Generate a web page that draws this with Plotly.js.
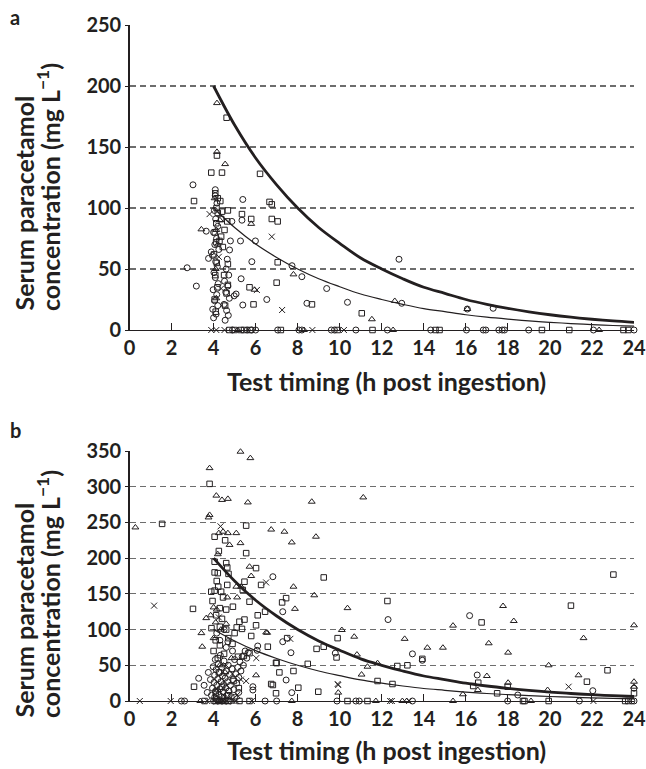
<!DOCTYPE html>
<html><head><meta charset="utf-8">
<script src="https://cdn.plot.ly/plotly-3.0.1.min.js"></script>
<style>html,body{margin:0;padding:0;background:#fff}</style>
</head><body><div id="chart" style="width:646px;height:769px"></div>
<script>
// ---------- DATA (time h, concentration mg/L) ----------
// Panel a
const aCircles = [[3.02,119],[3.18,36],[2.74,51],[3.65,81],[5.39,107],[4.87,89],[5.35,90],[4.80,73],[5.28,73],[5.99,73],[4.76,65.6],[3.76,58.7],[3.89,64],[5.82,56],[5.31,42],[4.98,28],[5.07,29.5],[5.39,20.5],[7.73,52.7],[8.20,43.7],[9.38,34],[6.53,25],[8.44,21.9],[10.37,22.7],[12.82,58],[12.95,21.9],[16.07,17.2],[17.30,17.8],[4.08,115],
 [4.00,10],[4.12,13],[3.96,17],[4.20,20],[4.05,24],[4.15,29],[3.98,33],[4.22,38],[4.08,43],[4.02,47],[4.18,52],[4.10,56],[3.95,61],[4.25,66],[4.06,70],[4.14,75],[4.00,80],[4.20,85],[4.10,91],[4.04,98],[4.16,104],[4.08,110],
 [4.55,8],[4.70,12],[4.62,16],[4.50,21],[4.75,26],[4.58,31],[4.68,36],[4.52,40],[4.72,45],[4.60,50],[4.65,58],
 [4.90,0],[5.60,0],[5.80,0],[6.00,0],[7.05,0],[8.06,0],[8.20,0],[9.60,0],[9.75,0],[10.77,0],[12.27,0],[14.33,0],[16.03,0],[16.83,0],[16.95,0],[17.57,0],[17.73,0],[17.84,0],[18.99,0],[22.07,0],[24.00,0]];
const aSquares = [[3.89,129],[4.40,129],[4.62,174],[4.16,143],[6.21,128],[6.66,105],[6.77,103],[6.77,91],[7.05,89],[5.79,91],[7.05,55.5],[7.00,38.8],[5.90,21],[8.68,21],[11.05,13.7],[3.07,105.7],[4.32,105.7],[4.20,96],[4.40,97],[4.68,98],[5.35,95],[4.36,91],[4.65,89],[4.13,87.5],[4.52,82],[4.36,76.5],[4.28,73],[4.44,68],[4.68,54],[4.68,37],[5.71,35],
 [4.10,15],[4.05,25],[4.18,35],[4.08,45],[4.15,55],[4.02,62],[4.12,72],[4.06,80],[4.14,100],[4.08,112],[4.20,108],[4.55,20],[4.62,30],[4.50,45],
 [4.75,0],[5.00,0],[5.30,0],[5.45,0],[5.75,0],[7.20,0],[9.90,0],[11.56,0],[14.56,0],[14.75,0],[19.62,0],[20.92,0],[23.50,0],[23.73,0]];
const aTriangles = [[4.16,186],[4.16,146],[4.55,136],[5.79,87],[7.80,45.6],[11.53,8.8],[12.62,23.8],[16.07,17.2],[3.42,82.5],[4.13,82],[4.13,26],[5.95,33],[4.20,70],[4.10,50],[4.30,90],[4.05,108],
 [5.15,0],[8.30,0],[12.54,0],[22.34,0]];
const aCrosses = [[3.81,95],[6.77,76.5],[6.06,32.8],[7.26,16.4],[4.36,34],[4.25,60],
 [3.89,0],[4.13,0],[4.52,0],[8.70,0],[10.20,0]];

// Panel b
const bCircles = [[6.82,174],[7.29,125],[12.30,114],[16.18,119.5],[7.29,83],[6.10,77],[7.68,67.6],[9.79,67],[13.46,66],[13.93,57],[16.54,36.4],[7.45,29.4],[5.87,20],[5.87,15.4],[7.72,11.7],[3.29,31.8],[6.07,71],[22.04,14.4],[18.47,8.4],[24.00,17.8],[4.68,83],
 [3.55,22],[3.70,12],[3.75,40],[3.85,30],[3.90,8],[3.95,18],[3.98,48],[4.02,26],[4.05,5],[4.05,36],[4.08,58],[4.10,14],[4.12,44],[4.15,22],[4.18,3],[4.20,31],[4.22,52],[4.25,9],[4.28,40],[4.30,17],[4.32,64],[4.35,27],[4.38,6],[4.40,47],[4.42,35],[4.45,13],[4.48,23],[4.50,56],[4.52,4],[4.55,32],[4.58,18],[4.60,42],[4.63,8],[4.66,27],[4.70,50],[4.73,14],[4.76,37],[4.80,22],[4.84,6],[4.88,45],[4.92,30],[4.96,16],[5.00,58],[5.05,38],[5.10,25],[5.15,47],[5.20,33],[5.25,55],[5.30,42],[5.36,62],[5.42,50],[5.50,70],[5.58,60],[5.65,68],[5.20,12],[5.00,5],[4.90,70],[4.60,75],[4.30,85],[4.15,95],[4.50,100],
 [2.47,0],[2.62,0],[4.00,0],[4.20,0],[4.40,0],[4.60,0],[4.80,0],[6.45,0],[7.00,0],[9.87,0],[10.77,0],[10.93,0],[13.46,0],[17.99,0],[21.40,0],[23.90,0],[24.00,0]];
const bSquares = [[1.55,248],[3.81,304],[5.55,245.5],[4.05,230],[5.55,207],[4.05,195],[4.60,193],[4.65,187],[6.02,186],[4.05,180],[4.20,179],[4.71,178],[4.15,168],[4.22,160],[5.47,167],[6.26,162.5],[4.65,162.5],[3.89,153],[4.05,154.5],[4.36,153],[5.39,155.5],[3.02,129],[4.30,130],[4.60,128],[4.92,132],[5.71,139],[9.24,173],[7.26,138],[7.45,144],[12.27,140],[6.45,125],[6.10,120],[5.23,111],[5.47,114],[6.02,106],[16.75,110],[21.00,133.5],[23.02,177],[3.90,102],[4.30,104],[4.60,100],[5.10,103],[5.35,101],[5.79,91],[6.58,76],[7.50,88],[9.90,88],[8.90,73],[9.24,76],[9.85,61],[13.93,59],[7.00,53],[7.13,40],[7.80,42],[8.48,52],[12.74,49],[13.22,50],[22.74,43],[21.76,27],[16.59,25.6],[11.80,28],[12.51,23.8],[6.74,23.8],[6.82,22.4],[6.97,10.8],[8.03,18.6],[8.98,13],[3.07,20],[5.16,62],[5.44,63],[5.71,67],[6.97,53.6],[16.35,21],[17.49,10.8],[17.99,20],[24.00,10.8],[4.10,85],[4.30,78],[4.00,70],[4.50,66],[4.20,60],[4.70,88],[4.90,80],[5.00,95],[4.12,120],[4.40,115],[3.95,140],[4.45,145],[4.25,210],[4.55,225],[4.10,12],[4.40,20],[4.70,8],[4.95,28],[5.20,18],[4.25,40],
 [3.57,0],[4.10,0],[4.30,0],[4.50,0],[4.70,0],[5.23,0],[5.71,0],[10.37,0],[11.32,0],[18.72,0],[18.79,0],[19.94,0],[23.58,0],[23.73,0]];
const bTriangles = [[0.28,243],[5.28,349],[5.75,340],[3.81,326],[4.13,287.5],[4.40,281.5],[4.68,283],[5.63,278],[3.81,260.5],[3.76,257],[8.67,279],[11.12,285],[6.74,240],[7.37,237],[7.72,222],[8.87,230],[4.25,235],[4.45,237],[4.68,235],[5.08,235],[4.76,218.5],[5.28,221],[4.20,205.5],[5.71,188],[5.79,175],[5.08,160],[5.31,160],[7.80,160],[8.79,148],[4.65,145],[5.12,145],[7.87,129],[10.37,130],[3.65,116],[3.86,120],[4.15,128],[4.00,131],[6.50,96],[10.10,99.4],[15.39,105.5],[17.77,133],[18.28,112],[24.00,106],[3.42,95],[6.55,95.5],[3.46,76],[21.60,88],[13.09,87],[14.17,74.6],[14.91,74.6],[17.09,80.8],[18.01,67.7],[10.69,90],[10.82,65],[11.32,48],[11.80,53],[19.94,50],[21.36,36],[17.00,35],[18.01,25.6],[24.00,27],[11.04,37],[6.02,36],[9.93,11.7],[16.57,15.4],[15.86,9.4],[19.89,15.4],[4.10,110],[4.35,100],[4.60,108],[4.00,88],[4.30,50],[4.55,40],[4.20,15],[4.85,60],[24.00,20],
 [3.37,0],[4.25,0],[7.72,0],[11.72,0],[12.98,0],[13.19,0],[15.39,0],[19.10,0]];
const bCrosses = [[1.17,133.5],[4.33,244.5],[6.50,166],[4.25,117],[6.03,60],[5.55,28],[5.12,8.4],[9.93,22.4],[7.65,87],[9.90,23.8],[20.89,20],[4.60,50],[4.90,38],[5.30,30],
 [0.49,0],[1.96,0],[3.70,0],[4.45,0],[4.90,0],[5.08,0],[5.82,0],[12.40,0],[12.48,0],[13.30,0],[22.07,0]];

// Nomogram lines
const lineHours = [4,5,6,7,8,9,10,11,12,13,14,15,16,17,18,19,20,21,22,23,24];
const line200 = [200,168,141,119,100,84,71,59,50,42,35,30,25,21,17.7,14.9,12.5,10.5,8.8,7.4,6.3];
const line100 = [100,84,70.5,59.5,50,42,35.5,29.5,25,21,17.5,15,12.5,10.5,8.9,7.5,6.3,5.3,4.4,3.7,3.1];

const xTicks = [0,2,4,6,8,10,12,14,16,18,20,22,24];
const xTitle = 'Test timing (h post ingestion)';
const yTitle1 = 'Serum paracetamol';
const yTitle2 = 'concentration (mg L<sup>−1</sup>)';

// ---------- BUILD ----------
const INK = '#231f20';
const FONT = 'Lato, "Open Sans", sans-serif';
function pts(arr, symbol, size, xa, ya){
  return {x: arr.map(p=>p[0]), y: arr.map(p=>p[1]), type:'scatter', mode:'markers', xaxis:xa, yaxis:ya,
    cliponaxis:false, hoverinfo:'skip',
    marker:{symbol:symbol, size:size, color:INK, line:{color:INK, width:1}}};
}
function ln(vals, w, xa, ya){
  return {x: lineHours, y: vals, type:'scatter', mode:'lines', xaxis:xa, yaxis:ya, hoverinfo:'skip',
    line:{color:INK, width:w, shape:'spline'}};
}
const traces = [
  ln(line200, 2.8, 'x', 'y'), ln(line100, 1.2, 'x', 'y'),
  pts(aCircles,'circle-open',6,'x','y'), pts(aSquares,'square-open',5.5,'x','y'),
  pts(aTriangles,'triangle-up-open',6,'x','y'), pts(aCrosses,'x-thin-open',6,'x','y'),
  ln(line200, 2.8, 'x2', 'y2'), ln(line100, 1.2, 'x2', 'y2'),
  pts(bCircles,'circle-open',6,'x2','y2'), pts(bSquares,'square-open',5.5,'x2','y2'),
  pts(bTriangles,'triangle-up-open',6,'x2','y2'), pts(bCrosses,'x-thin-open',6,'x2','y2')
];
const W = 646, H = 769;
const px = v => v / W, py = v => 1 - v / H;
const tickFont = {family: FONT, size: 20, color: INK, weight: 'bold'};
function xax(anchor){
  return {domain:[px(129.5), px(634)], anchor:anchor, range:[0,24], tickvals:xTicks, ticktext:xTicks.map(String),
    ticks:'inside', ticklen:7, tickwidth:1, tickcolor:INK, showline:true, linecolor:INK, linewidth:1.3,
    showgrid:false, zeroline:false, tickfont:tickFont, fixedrange:true};
}
function yax(anchor, top, bottom, maxv){
  const tv = []; for (let v=0; v<=maxv; v+=50) tv.push(v);
  return {domain:[py(bottom), py(top)], anchor:anchor, range:[0,maxv], tickvals:tv, ticktext:tv.map(String),
    ticks:'outside', ticklen:3, tickwidth:1, tickcolor:INK, showline:true, linecolor:INK, linewidth:1.3,
    showgrid:true, gridcolor:'#6d6d6d', gridwidth:1.1, griddash:'6px,4px', zeroline:false,
    tickfont:tickFont, fixedrange:true};
}
const xTitleFont = {family: FONT, size: 25, color: INK, weight: 'bold'};
const yTitleFont = {family: FONT, size: 25, color: INK, weight: 'bold'};
const ann = (text, x, y, opts) => Object.assign({text:text, xref:'paper', yref:'paper', x:px(x), y:py(y),
  xanchor:'center', yanchor:'middle', showarrow:false, font:xTitleFont}, opts||{});
const rot = {textangle:-90, xanchor:'center', yanchor:'bottom', font:yTitleFont};
const layout = {
  width:W, height:H, margin:{l:0,r:0,t:0,b:0}, showlegend:false,
  paper_bgcolor:'#fff', plot_bgcolor:'#fff',
  xaxis: xax('y'), yaxis: yax('x', 25, 330, 250),
  xaxis2: xax('y2'), yaxis2: yax('x2', 451, 701, 350),
  annotations:[
    ann('a', 15, 17, {font:{family:FONT,size:20,color:INK,weight:'bold'}}),
    ann('b', 15, 430, {font:{family:FONT,size:20,color:INK,weight:'bold'}}),
    ann(xTitle, 386, 381),
    ann(xTitle, 386, 750),
    ann(yTitle1, 23, 313, rot),
    ann(yTitle2, 48, 313, rot),
    ann(yTitle1, 23, 720, rot),
    ann(yTitle2, 48, 720, rot)
  ]
};
Plotly.newPlot('chart', traces, layout, {staticPlot:true, displayModeBar:false});
</script></body></html>
